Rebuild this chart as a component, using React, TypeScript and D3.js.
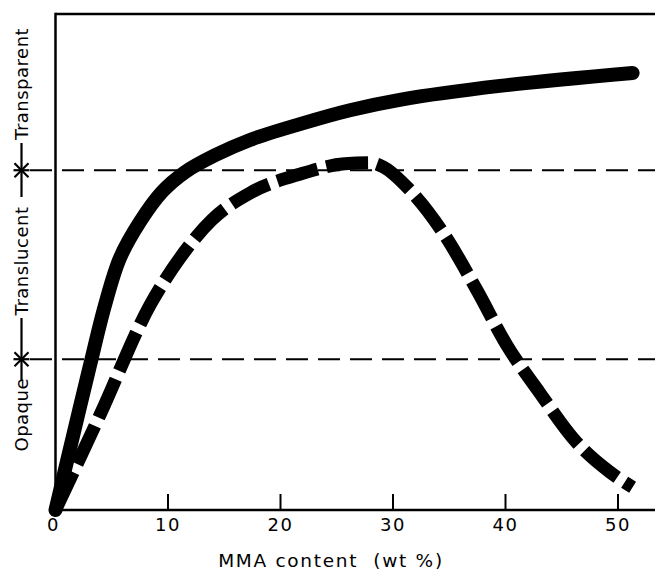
import React from "react";
import * as d3 from "d3";

const xTicks = [10, 20, 30, 40, 50];
const xTickLabels = ["0", "10", "20", "30", "40", "50"];
const xTickLabelValues = [0, 10, 20, 30, 40, 50];

// Solid curve (arbitrary transparency scale 0..100)
const solidX = [0, 1.47, 3.07, 4.4, 5.73, 7.51, 9.46, 11.5, 14.17, 17.28, 21.72, 26.17, 30.6, 39.5, 51.3];
const solidY = [0, 14.1, 29.2, 41.3, 50.8, 58.1, 64.1, 68.1, 71.5, 74.6, 77.8, 80.6, 82.7, 85.5, 88.1];

// Dashed curve
const dashedX = [0, 3.95, 8.4, 11.06, 13.9, 17.28, 21.7, 25.7, 27.94, 29.1, 31.5, 34.6, 37.45, 40.1, 43.05, 46.3, 49.27, 51.3];
const dashedY = [0, 19.15, 41.3, 50.8, 58.5, 63.9, 67.7, 69.8, 70.0, 69.2, 64.5, 55.4, 44.35, 33.3, 23.6, 13.7, 7.66, 4.6];

// Boundaries between regions
const boundaries = [30.4, 68.5];
const regionLabels = ["Opaque", "Translucent", "Transparent"];
const regionCenters = [19.2, 50.2, 85.9];

const W = 655;
const H = 570;
const FONT = "'DejaVu Sans', sans-serif";

export default function App() {
  const x = d3.scaleLinear().domain([0, 50]).range([55.5, 618]);
  const y = d3.scaleLinear().domain([0, 100]).range([510, 14]);

  const solidLine = d3
    .line<[number, number]>()
    .x((d) => x(d[0]))
    .y((d) => y(d[1]))
    .curve(d3.curveCatmullRom.alpha(0.5));

  const dashedLine = d3
    .line<[number, number]>()
    .x((d) => x(d[0]))
    .y((d) => y(d[1]))
    .curve(d3.curveMonotoneX);

  const solidPts: [number, number][] = solidX.map((v, i) => [v, solidY[i]]);
  const dashedPts: [number, number][] = dashedX.map((v, i) => [v, dashedY[i]]);

  const labelX = 28;
  const lineX = 21.5;

  return (
    <svg
      width={W}
      height={H}
      style={{ position: "absolute", left: 0, top: 0, background: "#fff" }}
      fontFamily={FONT}
    >
      {/* frame */}
      <line x1={x(0)} y1={y(100)} x2={W} y2={y(100)} stroke="#000" strokeWidth={2.5} />
      <line x1={x(0)} y1={y(100) - 1.2} x2={x(0)} y2={y(0)} stroke="#000" strokeWidth={2.5} />
      <line x1={x(0) - 1.2} y1={y(0)} x2={W} y2={y(0)} stroke="#000" strokeWidth={2.5} />

      {/* ticks */}
      {xTicks.map((t) => (
        <line key={t} x1={x(t)} x2={x(t)} y1={y(0)} y2={y(0) - 16} stroke="#000" strokeWidth={2} />
      ))}
      {xTickLabelValues.map((t, i) => (
        <text key={t} x={x(t) - (t === 0 ? 2 : 0)} y={531} textAnchor="middle" fontSize={18} letterSpacing={1.5} fill="#000">
          {xTickLabels[i]}
        </text>
      ))}

      {/* x axis title */}
      <text x={331} y={567} textAnchor="middle" fontSize={18.5} fill="#000" letterSpacing={1.7} xmlSpace="preserve">
        MMA content  (wt %)
      </text>

      {/* boundary dashed lines */}
      {boundaries.map((b) => (
        <line
          key={b}
          x1={30}
          x2={W}
          y1={y(b)}
          y2={y(b)}
          stroke="#000"
          strokeWidth={2}
          strokeDasharray="22 10"
        />
      ))}

      {/* region labels */}
      {regionLabels.map((lab, i) => (
        <text
          key={lab}
          transform={`translate(${labelX},${y(regionCenters[i])}) rotate(-90)`}
          textAnchor="middle"
          fontSize={18}
          letterSpacing={0.5}
          fill="#000"
        >
          {lab}
        </text>
      ))}

      {/* connectors + asterisks */}
      {boundaries.map((b, i) => {
        const cy = y(b);
        const top = i === 1 ? 143 : 318;
        const bot = i === 1 ? 197 : 381;
        return (
          <g key={"ast" + b} stroke="#000" strokeWidth={2.2}>
            <line x1={lineX} x2={lineX} y1={top} y2={bot} />
            <line x1={lineX - 7} x2={lineX + 7} y1={cy - 7} y2={cy + 7} />
            <line x1={lineX - 7} x2={lineX + 7} y1={cy + 7} y2={cy - 7} />
            <line x1={lineX - 8} x2={lineX + 8} y1={cy} y2={cy} />
          </g>
        );
      })}

      {/* curves */}
      <path
        d={solidLine(solidPts) ?? ""}
        fill="none"
        stroke="#000"
        strokeWidth={14}
        strokeLinecap="round"
        strokeLinejoin="round"
      />
      <path
        d={dashedLine(dashedPts) ?? ""}
        fill="none"
        stroke="#000"
        strokeWidth={13}
        strokeDasharray="42 9"
        strokeLinecap="butt"
        strokeLinejoin="round"
      />
    </svg>
  );
}
